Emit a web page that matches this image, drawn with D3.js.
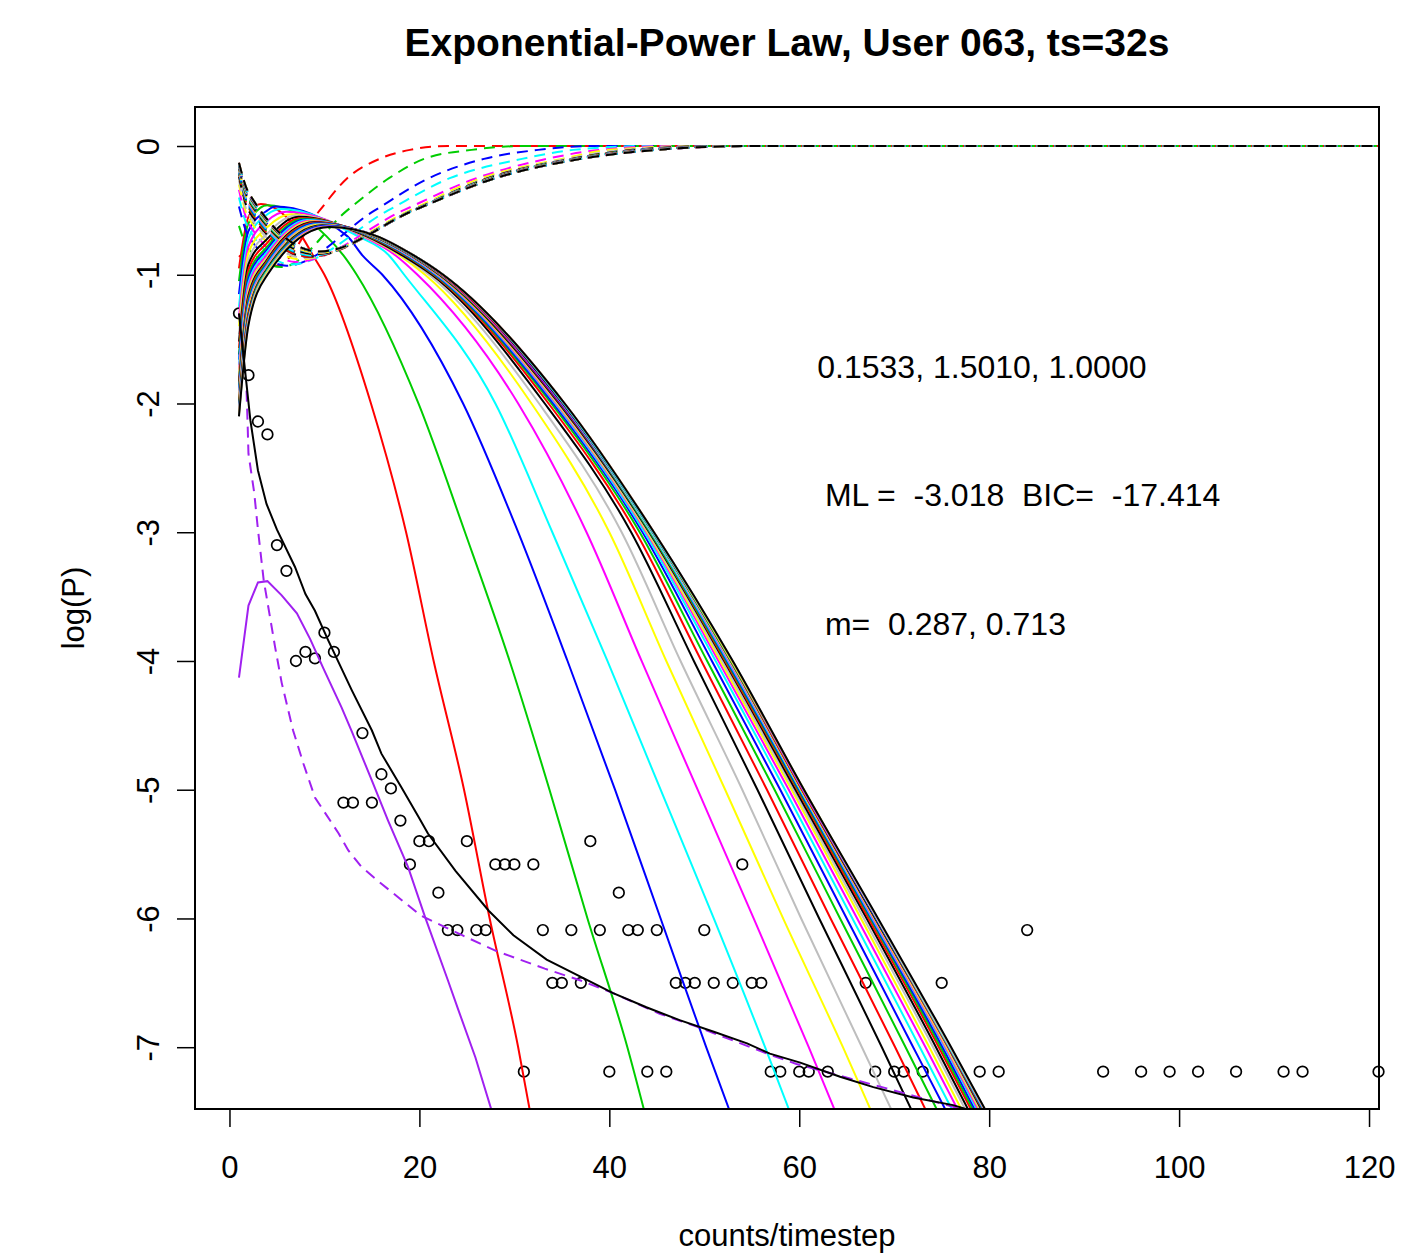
<!DOCTYPE html>
<html>
<head>
<meta charset="utf-8">
<title>Exponential-Power Law, User 063</title>
<script src="https://cdn.jsdelivr.net/npm/d3@7"></script>
<style>
  body { margin: 0; background: #fff; }
  text { font-family: "Liberation Sans", Arial, sans-serif; }
</style>
</head>
<body>
<script>
// observed log-frequencies (circles)
const ptX = [1,2,3,4,5,6,7,8,9,10,11,12,13,14,15,16,17,18,19,20,21,22,23,24,25,26,27,28,29,30,
  31,32,33,34,35,36,37,38,39,40,41,42,43,44,45,46,47,48,49,50,51,53,54,55,56,57,58,60,61,63,
  67,68,70,71,73,75,79,81,84,92,96,99,102,106,111,113,121];
const ptY = [-1.30,-1.78,-2.14,-2.24,-3.10,-3.30,-4.00,-3.93,-3.98,-3.78,-3.93,-5.10,-5.10,-4.56,-5.10,-4.88,-4.99,-5.24,-5.58,-5.40,
  -5.40,-5.80,-6.09,-6.09,-5.40,-6.09,-6.09,-5.58,-5.58,-5.58,
  -7.19,-5.58,-6.09,-6.50,-6.50,-6.09,-6.50,-5.40,-6.09,-7.19,-5.80,-6.09,-6.09,-7.19,-6.09,-7.19,-6.50,-6.50,-6.50,-6.09,
  -6.50,-6.50,-5.58,-6.50,-6.50,-7.19,-7.19,-7.19,-7.19,-7.19,
  -6.50,-7.19,-7.19,-7.19,-7.19,-6.50,-7.19,-7.19,-6.09,-7.19,-7.19,-7.19,-7.19,-7.19,-7.19,-7.19,-7.19];

// R palette order used by the component curves
const famColors = ["#FF0000", "#00CD00", "#0000FF", "#00FFFF", "#FF00FF", "#FFFF00", "#BEBEBE", "#000000"];

// solid component curves: start, x=2, x=4, peak, then x where each crosses solidLevels
const solidStart = [-0.95,-1.05,-1.15,-1.25,-1.33,-1.4,-1.46,-1.52,-1.57,-1.62,-1.66,-1.7,-1.74,-1.77,-1.8,-1.83,
  -1.86,-1.88,-1.9,-1.92,-1.94,-1.96,-1.98,-2.0,-2.02,-2.03,-2.05,-2.06,-2.07,-2.08,-2.09,-2.1];
const solidAt2 = [-0.55,-0.6,-0.66,-0.72,-0.78,-0.83,-0.88,-0.92,-0.96,-1.0,-1.03,-1.06,-1.09,-1.12,-1.14,-1.16,
  -1.18,-1.2,-1.22,-1.24,-1.26,-1.27,-1.29,-1.3,-1.31,-1.33,-1.34,-1.35,-1.36,-1.37,-1.38,-1.39];
const solidAt4 = [null,null,-0.5,-0.53,-0.58,-0.63,-0.68,-0.72,-0.75,-0.78,-0.8,-0.82,-0.84,-0.86,-0.87,-0.88,
  -0.89,-0.9,-0.91,-0.92,-0.93,-0.94,-0.94,-0.95,-0.96,-0.96,-0.97,-0.97,-0.98,-0.98,-0.99,-1.0];
const solidPeakX = [3.3,4.0,4.8,5.5,6.0,6.5,7.0,7.3,7.6,7.8,8.0,8.2,8.4,8.6,8.8,9.0,
  9.1,9.2,9.3,9.4,9.5,9.6,9.7,9.8,9.9,10.0,10.1,10.2,10.3,10.4,10.5,10.5];
const solidPeakY = [-0.45,-0.46,-0.47,-0.49,-0.51,-0.53,-0.54,-0.55,-0.56,-0.565,-0.57,-0.575,-0.58,-0.585,-0.59,-0.59,
  -0.595,-0.6,-0.6,-0.605,-0.61,-0.61,-0.615,-0.615,-0.62,-0.62,-0.62,-0.625,-0.625,-0.63,-0.63,-0.63];
const solidLevels = [-0.7, -0.85, -1, -2, -3, -4, -5, -6, -7, -7.5];
const solidCross = [
  [7.6, 8.8, 10.0, 14.9, 18.6, 21.5, 24.7, 27.4, 30.4, 31.65],
  [10.2, 12.0, 13.4, 19.9, 24.8, 29.5, 33.7, 37.7, 41.9, 43.7],
  [12.4, 14.0, 16.1, 24.6, 30.4, 35.6, 40.6, 45.4, 50.2, 52.7],
  [13.5, 16.8, 18.4, 28.0, 34.0, 39.8, 45.4, 51.0, 56.4, 59.0],
  [14.0, 17.5, 19.8, 30.4, 37.6, 43.4, 49.3, 55.2, 61.0, 63.8],
  [14.2, 17.9, 20.6, 31.8, 40.0, 46.0, 52.2, 58.3, 64.6, 67.6],
  [14.3, 18.1, 21.0, 32.6, 41.3, 47.5, 54.0, 60.2, 66.6, 69.8],
  [14.4, 18.2, 21.3, 33.2, 42.3, 48.9, 55.6, 62.1, 68.7, 71.9],
  [14.6, 18.5, 21.5, 33.6, 42.8, 49.7, 56.6, 63.3, 70.1, 73.4],
  [14.7, 18.6, 21.6, 33.9, 43.2, 50.3, 57.4, 64.3, 71.2, 74.6],
  [14.8, 18.7, 21.7, 34.1, 43.5, 50.8, 58.0, 65.0, 72.0, 75.5],
  [14.9, 18.8, 21.8, 34.3, 43.7, 51.2, 58.5, 65.6, 72.7, 76.2],
  [15.0, 18.9, 21.9, 34.4, 43.9, 51.5, 58.9, 66.1, 73.3, 76.8],
  [15.0, 19.0, 22.0, 34.5, 44.0, 51.7, 59.2, 66.5, 73.7, 77.2],
  [15.1, 19.0, 22.1, 34.6, 44.1, 51.9, 59.4, 66.8, 74.1, 77.6],
  [15.1, 19.1, 22.1, 34.7, 44.2, 52.1, 59.6, 67.1, 74.4, 77.9],
  [15.2, 19.1, 22.2, 34.8, 44.3, 52.2, 59.8, 67.3, 74.7, 78.2],
  [15.2, 19.2, 22.2, 34.9, 44.3, 52.3, 59.9, 67.5, 74.9, 78.4],
  [15.2, 19.2, 22.3, 34.9, 44.4, 52.4, 60.0, 67.6, 75.1, 78.6],
  [15.3, 19.2, 22.3, 35.0, 44.4, 52.5, 60.1, 67.7, 75.3, 78.8],
  [15.3, 19.3, 22.3, 35.0, 44.5, 52.6, 60.2, 67.8, 75.4, 78.95],
  [15.3, 19.3, 22.4, 35.1, 44.5, 52.7, 60.2, 67.9, 75.5, 79.1],
  [15.4, 19.3, 22.4, 35.1, 44.5, 52.7, 60.3, 68.0, 75.6, 79.2],
  [15.4, 19.3, 22.4, 35.1, 44.6, 52.8, 60.3, 68.0, 75.7, 79.3],
  [15.4, 19.4, 22.4, 35.2, 44.6, 52.8, 60.3, 68.1, 75.7, 79.4],
  [15.4, 19.4, 22.5, 35.2, 44.6, 52.8, 60.4, 68.1, 75.8, 79.45],
  [15.5, 19.4, 22.5, 35.2, 44.6, 52.9, 60.4, 68.1, 75.8, 79.5],
  [15.5, 19.4, 22.5, 35.2, 44.6, 52.9, 60.4, 68.2, 75.8, 79.55],
  [15.5, 19.4, 22.5, 35.3, 44.7, 52.9, 60.4, 68.2, 75.9, 79.6],
  [15.5, 19.4, 22.5, 35.3, 44.7, 52.9, 60.5, 68.2, 75.9, 79.65],
  [15.5, 19.4, 22.5, 35.3, 44.7, 53.0, 60.5, 68.2, 75.9, 79.68],
  [15.5, 19.4, 22.5, 35.3, 44.7, 53.0, 60.5, 68.3, 76.0, 79.7]
];

// dashed complementary curves: start, x=2, minimum, then x where each crosses dashLevels
const dashStart = [-0.85,-0.62,-0.47,-0.4,-0.34,-0.3,-0.27,-0.24,-0.22,-0.21,-0.2,-0.19,-0.18,-0.18,-0.17,-0.17,
  -0.16,-0.16,-0.16,-0.15,-0.15,-0.15,-0.15,-0.14,-0.14,-0.14,-0.14,-0.14,-0.13,-0.13,-0.13,-0.13];
const dashAt2 = [-0.9,-0.8,-0.7,-0.64,-0.6,-0.56,-0.53,-0.5,-0.48,-0.47,-0.46,-0.45,-0.44,-0.43,-0.42,-0.42,
  -0.41,-0.41,-0.4,-0.4,-0.39,-0.39,-0.39,-0.38,-0.38,-0.38,-0.37,-0.37,-0.37,-0.36,-0.36,-0.36];
const dashMinX = [5.0,5.5,6.0,6.5,7.0,7.5,8.0,8.3,8.4,8.5,8.6,8.7,8.8,8.9,9.0,9.0,
  9.1,9.1,9.2,9.2,9.3,9.3,9.4,9.4,9.5,9.5,9.5,9.5,9.5,9.5,9.5,9.5];
const dashMinY = [-0.93,-0.94,-0.93,-0.92,-0.9,-0.88,-0.87,-0.86,-0.86,-0.85,-0.85,-0.85,-0.84,-0.84,-0.84,-0.84,
  -0.83,-0.83,-0.83,-0.83,-0.83,-0.83,-0.82,-0.82,-0.82,-0.82,-0.82,-0.82,-0.82,-0.82,-0.82,-0.82];
const dashLevels = [-0.5, -0.25, -0.1, -0.03, 0];
const dashCross = [
  [9.5, 12.4, 15.8, 19.0, 23], [12.4, 16.8, 20.5, 25.5, 31], [15.3, 21.0, 26.8, 32.5, 38],
  [16.7, 23.2, 30.8, 36.2, 44], [18.3, 26.0, 33.4, 39.0, 47], [19.0, 26.5, 35.0, 40.0, 50],
  [19.2, 27.0, 35.5, 41.5, 51], [19.3, 27.2, 36.0, 42.5, 52], [19.3, 27.3, 36.1, 42.8, 52.5],
  [19.3, 27.4, 36.2, 43.0, 53], [19.3, 27.5, 36.3, 43.3, 53], [19.3, 27.5, 36.4, 43.5, 53.5],
  [19.4, 27.6, 36.5, 43.7, 53.5], [19.4, 27.6, 36.5, 43.9, 54], [19.4, 27.7, 36.6, 44.0, 54],
  [19.4, 27.7, 36.6, 44.1, 54], [19.4, 27.8, 36.7, 44.2, 54.5], [19.4, 27.8, 36.7, 44.3, 54.5],
  [19.4, 27.8, 36.8, 44.4, 54.5], [19.4, 27.9, 36.8, 44.5, 54.5], [19.4, 27.9, 36.8, 44.6, 55],
  [19.4, 27.9, 36.9, 44.7, 55], [19.4, 27.9, 36.9, 44.7, 55], [19.4, 28.0, 36.9, 44.8, 55],
  [19.4, 28.0, 37.0, 44.8, 55], [19.4, 28.0, 37.0, 44.9, 55], [19.4, 28.0, 37.0, 44.9, 55],
  [19.4, 28.0, 37.0, 45.0, 55], [19.4, 28.0, 37.0, 45.0, 55], [19.4, 28.0, 37.0, 45.0, 55],
  [19.4, 28.0, 37.0, 45.0, 55], [19.4, 28.0, 37.0, 45.0, 55]
];
const dashEndX = 121;

// second (power-law) component, solid and dashed
const purpleX = [1, 2, 3, 4, 5.5, 7.1, 8.5, 9.9, 11.8, 12.9, 15.0, 16.7, 18.8, 20.6, 23.0, 24.1, 25.9, 27.6];
const purpleY = [-4.13, -3.57, -3.39, -3.38, -3.49, -3.63, -3.83, -4.06, -4.36, -4.55, -4.93, -5.24, -5.60, -5.99, -6.48, -6.71, -7.08, -7.49];
const purpleDashX = [1.8, 1.9, 2.0, 2.6, 3.0, 3.6, 4.8, 5.5, 6.7, 7.8, 9.0, 11.5, 12.5, 13.9, 16.0, 20.2, 24.5, 28.0,
  33.2, 36.9, 40.4, 45.3, 49.2, 53.1, 56.6, 59.7, 69.2, 78];
const purpleDashY = [-1.9, -2.13, -2.39, -2.69, -2.98, -3.37, -3.89, -4.17, -4.54, -4.80, -5.06, -5.34, -5.47, -5.60, -5.73, -5.98, -6.13, -6.25,
  -6.39, -6.48, -6.58, -6.74, -6.84, -6.95, -7.05, -7.13, -7.32, -7.5];

// fitted mixture
const fitX = [1, 2.2, 3.0, 3.9, 5.0, 6.9, 8.0, 9.0, 10.4, 12.9, 15.0, 16.0, 18.1, 19.9, 20.9, 23.8, 27.3, 29.9,
  33.4, 36.9, 40.4, 43.9, 47.4, 51.0, 54.5, 56.9, 60.1, 64.3, 67.8, 72.0, 76.2, 78.0, 80];
const fitY = [-1.3, -2.13, -2.52, -2.78, -2.98, -3.27, -3.48, -3.61, -3.84, -4.23, -4.54, -4.72, -4.98, -5.21, -5.34, -5.63, -5.94, -6.13,
  -6.32, -6.45, -6.58, -6.69, -6.79, -6.88, -6.97, -7.05, -7.12, -7.23, -7.31, -7.39, -7.45, -7.49, -7.52];

const xTicks = [0, 20, 40, 60, 80, 100, 120];
const yTicks = [0, -1, -2, -3, -4, -5, -6, -7];
const notes = [
  { x: 61.9, y: -1.71, t: "0.1533, 1.5010, 1.0000" },
  { x: 62.7, y: -2.71, t: "ML =  -3.018  BIC=  -17.414" },
  { x: 62.7, y: -3.71, t: "m=  0.287, 0.713" }
];

const width = 1427, height = 1254;
const plotL = 195, plotR = 1379, plotT = 107, plotB = 1109;

const x = d3.scaleLinear().domain([-3.63, 121.05]).range([plotL, plotR]);
const y = d3.scaleLinear().domain([-7.48, 0.303]).range([plotB, plotT]);

const svg = d3.select("body").append("svg")
  .attr("width", width)
  .attr("height", height);

svg.append("rect").attr("width", width).attr("height", height).attr("fill", "#fff");

svg.append("defs").append("clipPath").attr("id", "plotClip")
  .append("rect")
  .attr("x", plotL).attr("y", plotT)
  .attr("width", plotR - plotL).attr("height", plotB - plotT);

// points
svg.append("g")
  .selectAll("circle")
  .data(ptX.map((v, i) => [v, ptY[i]]))
  .join("circle")
  .attr("cx", d => x(d[0]))
  .attr("cy", d => y(d[1]))
  .attr("r", 5.3)
  .attr("fill", "none")
  .attr("stroke", "#000")
  .attr("stroke-width", 1.7);

const plot = svg.append("g").attr("clip-path", "url(#plotClip)");

const smooth = d3.line().x(d => x(d[0])).y(d => y(d[1])).curve(d3.curveMonotoneX);
const straight = d3.line().x(d => x(d[0])).y(d => y(d[1]));

d3.range(solidStart.length).forEach(i => {
  const col = famColors[i % famColors.length];
  const sPts = [[1, solidStart[i]], [2, solidAt2[i]]];
  if (solidAt4[i] !== null) sPts.push([4, solidAt4[i]]);
  sPts.push([solidPeakX[i], solidPeakY[i]]);
  solidLevels.forEach((lv, j) => sPts.push([solidCross[i][j], lv]));
  plot.append("path")
    .attr("d", smooth(sPts))
    .attr("fill", "none")
    .attr("stroke", col)
    .attr("stroke-width", 2);

  const dPts = [[1, dashStart[i]], [2, dashAt2[i]], [dashMinX[i], dashMinY[i]]];
  dashLevels.forEach((lv, j) => dPts.push([dashCross[i][j], lv]));
  dPts.push([dashEndX, 0]);
  plot.append("path")
    .attr("d", smooth(dPts))
    .attr("fill", "none")
    .attr("stroke", col)
    .attr("stroke-width", 2)
    .attr("stroke-dasharray", "11,7");
});

plot.append("path")
  .attr("d", straight(purpleX.map((v, i) => [v, purpleY[i]])))
  .attr("fill", "none").attr("stroke", "#A020F0").attr("stroke-width", 2);

plot.append("path")
  .attr("d", straight(purpleDashX.map((v, i) => [v, purpleDashY[i]])))
  .attr("fill", "none").attr("stroke", "#A020F0").attr("stroke-width", 2)
  .attr("stroke-dasharray", "11,7");

plot.append("path")
  .attr("d", straight(fitX.map((v, i) => [v, fitY[i]])))
  .attr("fill", "none").attr("stroke", "#000").attr("stroke-width", 2);

// box
svg.append("rect")
  .attr("x", plotL).attr("y", plotT)
  .attr("width", plotR - plotL).attr("height", plotB - plotT)
  .attr("fill", "none").attr("stroke", "#000").attr("stroke-width", 2);

// axes
const gx = svg.append("g")
  .attr("transform", `translate(0,${plotB})`)
  .call(d3.axisBottom(x).tickValues(xTicks).tickSize(18).tickSizeOuter(0).tickPadding(29).tickFormat(d => String(d)));
gx.select(".domain").remove();
gx.attr("font-size", 31).attr("font-family", "Liberation Sans, Arial, sans-serif");
gx.selectAll("line").attr("stroke-width", 1.5);
gx.selectAll("text").attr("fill", "#000");

const gy = svg.append("g")
  .attr("transform", `translate(${plotL},0)`)
  .call(d3.axisLeft(y).tickValues(yTicks).tickSize(18).tickSizeOuter(0).tickFormat(d => String(d)));
gy.select(".domain").remove();
gy.attr("font-size", 31).attr("font-family", "Liberation Sans, Arial, sans-serif");
gy.selectAll("line").attr("stroke-width", 1.5);
gy.selectAll("text")
  .attr("fill", "#000")
  .attr("x", 0)
  .attr("y", -36)
  .attr("dy", null)
  .attr("text-anchor", "middle")
  .attr("transform", "rotate(-90)");

// titles
svg.append("text")
  .attr("x", (plotL + plotR) / 2).attr("y", 56)
  .attr("text-anchor", "middle")
  .attr("font-size", 39).attr("font-weight", "bold")
  .text("Exponential-Power Law, User 063, ts=32s");

svg.append("text")
  .attr("x", (plotL + plotR) / 2).attr("y", 1246)
  .attr("text-anchor", "middle")
  .attr("font-size", 31)
  .text("counts/timestep");

svg.append("text")
  .attr("transform", `translate(84,${(plotT + plotB) / 2}) rotate(-90)`)
  .attr("text-anchor", "middle")
  .attr("font-size", 31)
  .text("log(P)");

svg.append("g")
  .selectAll("text")
  .data(notes)
  .join("text")
  .attr("x", d => x(d.x))
  .attr("y", d => y(d.y))
  .attr("dy", "0.36em")
  .attr("font-size", 32)
  .style("white-space", "pre")
  .text(d => d.t);
</script>
</body>
</html>
